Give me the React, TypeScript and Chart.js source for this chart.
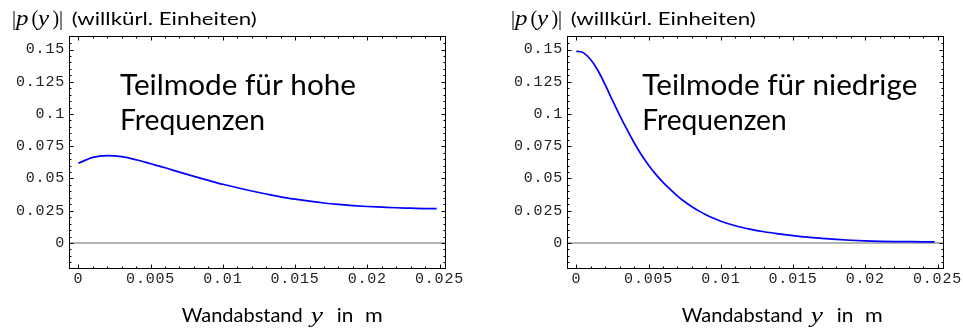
import React, { useEffect, useRef } from "react";
import { Chart, registerables } from "chart.js";

Chart.register(...registerables);

// ---------- data ----------
const highX = [0, 0.001, 0.002, 0.003, 0.004, 0.005, 0.006, 0.007, 0.008, 0.009, 0.01, 0.011, 0.012, 0.013, 0.014, 0.015, 0.016, 0.017, 0.018, 0.019, 0.02, 0.021, 0.022, 0.023, 0.024, 0.0248];
const highY = [0.0618, 0.0664, 0.0678, 0.0669, 0.0645, 0.0614, 0.0583, 0.0549, 0.0516, 0.0485, 0.0455, 0.0428, 0.0403, 0.038, 0.0358, 0.034, 0.0324, 0.031, 0.0299, 0.029, 0.0283, 0.0278, 0.0273, 0.027, 0.0267, 0.0266];

const lowX = [0, 0.0005, 0.001, 0.0015, 0.002, 0.0025, 0.003, 0.0035, 0.004, 0.0045, 0.005, 0.0055, 0.006, 0.0065, 0.007, 0.0075, 0.008, 0.0085, 0.009, 0.0095, 0.01, 0.011, 0.012, 0.013, 0.014, 0.015, 0.016, 0.017, 0.018, 0.019, 0.02, 0.021, 0.022, 0.023, 0.024, 0.0248];
const lowY = [0.1488, 0.1474, 0.142, 0.1335, 0.1225, 0.1105, 0.099, 0.088, 0.0777, 0.0684, 0.0603, 0.0532, 0.047, 0.0415, 0.0364, 0.032, 0.0281, 0.0247, 0.0217, 0.0191, 0.0169, 0.0134, 0.0108, 0.0087, 0.0071, 0.0057, 0.0045, 0.0036, 0.0028, 0.0021, 0.0016, 0.0013, 0.0011, 0.001, 0.0009, 0.0008];

const yTickValues = [0, 0.025, 0.05, 0.075, 0.1, 0.125, 0.15];
const yTickLabels = ["0", "0.025", "0.05", "0.075", "0.1", "0.125", "0.15"];
const xTickValues = [0, 0.005, 0.01, 0.015, 0.02, 0.025];
const xTickLabels = ["0", "0.005", "0.01", "0.015", "0.02", "0.025"];

const annotationHigh = ["Teilmode für hohe", "Frequenzen"];
const annotationLow = ["Teilmode für niedrige", "Frequenzen"];
const yTitleRest = "(willkürl. Einheiten)";
const xTitleWords = ["Wandabstand", "y", "in", "m"];

// ---------- layout ----------
const X_MIN = -0.00058;
const X_MAX = 0.02538;
const Y_MIN = -0.0194;
const Y_MAX = 0.1597;

const SANS = "Lato, 'DejaVu Sans', sans-serif";
const SERIF = "'Liberation Serif', 'DejaVu Serif', serif";
const MONO = "'Liberation Mono', 'DejaVu Sans Mono', monospace";

type Panel = {
  canvasLeft: number;
  canvasWidth: number;
  yAxisWidth: number;
  padRight: number;
  xs: number[];
  ys: number[];
  annotation: string[];
  annotationWidths: number[];
  titleX: number; // page coords
  annX: number;
  xTitleX: number;
};

const panels: Panel[] = [
  {
    canvasLeft: 0,
    canvasWidth: 481,
    yAxisWidth: 70,
    padRight: 36,
    xs: highX,
    ys: highY,
    annotation: annotationHigh,
    annotationWidths: [236, 145],
    titleX: 12,
    annX: 120,
    xTitleX: 181.7,
  },
  {
    canvasLeft: 481,
    canvasWidth: 482,
    yAxisWidth: 87,
    padRight: 20,
    xs: lowX,
    ys: lowY,
    annotation: annotationLow,
    annotationWidths: [275, 144.4],
    titleX: 511,
    annX: 642.3,
    xTitleX: 681.7,
  },
];

function drawFitted(
  ctx: CanvasRenderingContext2D,
  text: string,
  x: number,
  baseline: number,
  font: string,
  width?: number
) {
  ctx.font = font;
  const w = ctx.measureText(text).width;
  const s = width ? Math.min(1.25, Math.max(0.8, width / w)) : 1;
  ctx.save();
  ctx.translate(x, baseline);
  ctx.scale(s, 1);
  ctx.textAlign = "left";
  ctx.textBaseline = "alphabetic";
  ctx.fillText(text, 0, 0);
  ctx.restore();
}

function i5(v: number, step: number) {
  const r = v / step;
  return Math.abs(r - Math.round(r)) < 1e-6;
}

function makeFramePlugin(p: Panel) {
  return {
    id: "frameAndTexts",
    beforeDraw(chart: any) {
      (chart.ctx as any).letterSpacing = "0.8px";
    },
    beforeDatasetsDraw(chart: any) {
      const ctx = chart.ctx as CanvasRenderingContext2D;
      const { left, right } = chart.chartArea;
      const y0 = Math.round(chart.scales.y.getPixelForValue(0));
      ctx.save();
      ctx.strokeStyle = "#b4b4b4";
      ctx.lineWidth = 2;
      ctx.beginPath();
      ctx.moveTo(left, y0);
      ctx.lineTo(right, y0);
      ctx.stroke();
      ctx.restore();
    },
    afterDraw(chart: any) {
      const ctx = chart.ctx as CanvasRenderingContext2D;
      const xs = chart.scales.x;
      const ysc = chart.scales.y;
      const { left, right, top, bottom } = chart.chartArea;
      ctx.save();
      (ctx as any).letterSpacing = "0px";
      const L = Math.round(left) - 0.5;
      const R = Math.round(right) + 0.5;
      const T = Math.round(top) - 0.5;
      const B = Math.round(bottom) + 0.5;
      ctx.strokeStyle = "#000";
      ctx.lineWidth = 1;
      ctx.strokeRect(L, T, R - L, B - T);

      // frame ticks (inside)
      ctx.beginPath();
      for (let i = 0; i <= 25; i++) {
        const v = i * 0.001;
        const len = i5(v, 0.005) ? 4 : 2;
        const px = Math.round(xs.getPixelForValue(v)) + 0.5;
        ctx.moveTo(px, B);
        ctx.lineTo(px, B - len);
        ctx.moveTo(px, T);
        ctx.lineTo(px, T + len);
      }
      for (let i = -3; i <= 31; i++) {
        const v = i * 0.005;
        const len = i5(v, 0.025) ? 4 : 2;
        const py = Math.round(ysc.getPixelForValue(v)) + 0.5;
        if (py < T || py > B) continue;
        ctx.moveTo(L, py);
        ctx.lineTo(L + len, py);
        ctx.moveTo(R, py);
        ctx.lineTo(R - len, py);
      }
      ctx.stroke();

      // texts
      ctx.fillStyle = "#000";
      const off = p.canvasLeft;
      const tx = p.titleX - off;
      const tb = 25;
      const mathUp = `20px ${SERIF}`;
      const mathIt = `italic 20px ${SERIF}`;
      drawFitted(ctx, "|", tx, tb, mathUp);
      drawFitted(ctx, "p", tx + 4, tb, mathIt, 13.5);
      drawFitted(ctx, "(", tx + 19.5, tb, mathUp);
      drawFitted(ctx, "y", tx + 26, tb, mathIt, 13);
      drawFitted(ctx, ")", tx + 40.5, tb, mathUp);
      drawFitted(ctx, "|", tx + 47, tb, mathUp);
      drawFitted(ctx, yTitleRest, tx + 59.7, tb, `18px ${SANS}`, 185);

      const ax = p.annX - off;
      drawFitted(ctx, p.annotation[0], ax, 95, `29px ${SANS}`, p.annotationWidths[0]);
      drawFitted(ctx, p.annotation[1], ax, 129.5, `29px ${SANS}`, p.annotationWidths[1]);

      const xx = p.xTitleX - off;
      const xb = 321.7;
      drawFitted(ctx, xTitleWords[0], xx, xb, `20px ${SANS}`, 121);
      drawFitted(ctx, xTitleWords[1], xx + 129, xb, `italic 22px ${SERIF}`, 14);
      drawFitted(ctx, xTitleWords[2], xx + 155, xb, `20px ${SANS}`, 16.6);
      drawFitted(ctx, xTitleWords[3], xx + 183.3, xb, `20px ${SANS}`, 17.7);
      ctx.restore();
    },
  };
}

function PanelChart({ p }: { p: Panel }) {
  const ref = useRef<HTMLCanvasElement | null>(null);
  useEffect(() => {
    if (!ref.current) return;
    const chart = new Chart(ref.current, {
      type: "line",
      data: {
        datasets: [
          {
            data: p.xs.map((x, i) => ({ x, y: p.ys[i] })),
            borderColor: "#0000ff",
            borderWidth: 1.7,
            pointRadius: 0,
            fill: false,
            cubicInterpolationMode: "monotone",
          },
        ],
      },
      options: {
        responsive: false,
        animation: false,
        devicePixelRatio: 1,
        layout: { padding: { top: 37, right: p.padRight, left: 0, bottom: 0 } },
        plugins: { legend: { display: false }, tooltip: { enabled: false } },
        elements: { point: { radius: 0 } },
        scales: {
          x: {
            type: "linear",
            bounds: "data",
            min: X_MIN,
            max: X_MAX,
            grid: { display: false, drawTicks: false },
            border: { display: false },
            afterBuildTicks: (s: any) => {
              s.ticks = xTickValues.map((v) => ({ value: v }));
            },
            afterFit: (s: any) => {
              s.height = 60;
              s.paddingLeft = 0;
              s.paddingRight = 0;
            },
            ticks: {
              autoSkip: false,
              maxRotation: 0,
              minRotation: 0,
              padding: 2,
              color: "#222",
              font: { family: MONO, size: 15 },
              callback: (_v: any, i: number) => xTickLabels[i],
            },
          },
          y: {
            type: "linear",
            bounds: "data",
            min: Y_MIN,
            max: Y_MAX,
            grid: { display: false, drawTicks: false },
            border: { display: false },
            afterBuildTicks: (s: any) => {
              s.ticks = yTickValues.map((v) => ({ value: v }));
            },
            afterFit: (s: any) => {
              s.width = p.yAxisWidth;
              s.paddingTop = 0;
              s.paddingBottom = 0;
            },
            ticks: {
              autoSkip: false,
              padding: 5,
              color: "#222",
              font: { family: MONO, size: 15 },
              callback: (_v: any, i: number) => yTickLabels[i],
            },
          },
        },
      } as any,
      plugins: [makeFramePlugin(p)],
    });
    return () => chart.destroy();
  }, [p]);
  return (
    <canvas
      ref={ref}
      width={p.canvasWidth}
      height={328}
      style={{
        position: "absolute",
        left: p.canvasLeft,
        top: 0,
        width: p.canvasWidth,
        height: 328,
      }}
    />
  );
}

export default function App() {
  return (
    <div
      style={{
        position: "absolute",
        left: 0,
        top: 0,
        width: 963,
        height: 328,
        background: "#fff",
        overflow: "hidden",
      }}
    >
      {panels.map((p, i) => (
        <PanelChart key={i} p={p} />
      ))}
    </div>
  );
}
